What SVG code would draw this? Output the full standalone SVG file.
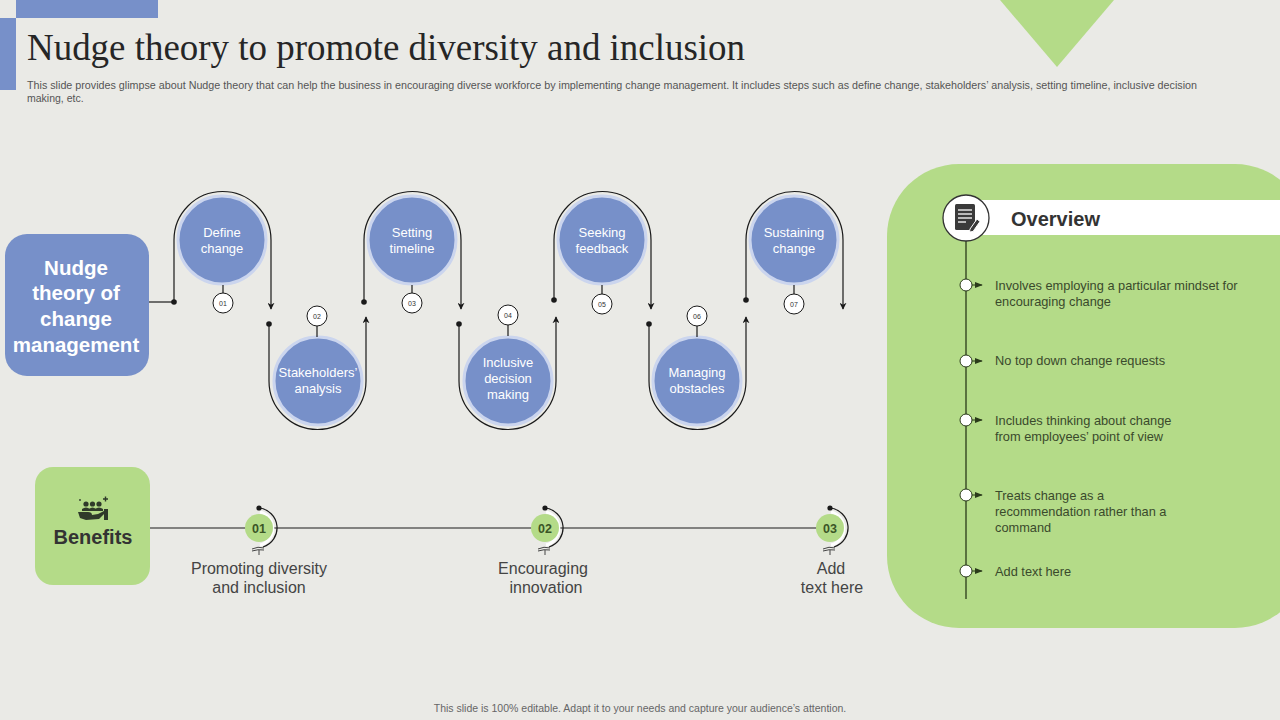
<svg xmlns="http://www.w3.org/2000/svg" width="1280" height="720" viewBox="0 0 1280 720">
<defs>
<marker id="arr" viewBox="0 0 10 10" refX="9" refY="5" markerWidth="7" markerHeight="7" orient="auto-start-reverse" markerUnits="userSpaceOnUse">
<path d="M0,0 L10,5 L0,10 L3,5 Z" fill="#1a1a1a"/>
</marker>
<marker id="arr2" viewBox="0 0 10 10" refX="9" refY="5" markerWidth="8" markerHeight="8" orient="auto" markerUnits="userSpaceOnUse">
<path d="M0,1 L10,5 L0,9 Z" fill="#2a3a1a"/>
</marker>
<style>
.sans{font-family:"Liberation Sans",Arial,sans-serif}
.step{fill:#7790C9;stroke:#CBD5EE;stroke-width:3}
.stxt{font-family:"Liberation Sans",Arial,sans-serif;font-size:13px;fill:#ffffff;text-anchor:middle}
.badge{fill:#ffffff;stroke:#1a1a1a;stroke-width:1}
.btxt{font-family:"Liberation Sans",Arial,sans-serif;font-size:7px;fill:#333;text-anchor:middle}
.wire{fill:none;stroke:#1a1a1a;stroke-width:1.2}
.tick{stroke:#1a1a1a;stroke-width:1.2}
.dot{fill:#1a1a1a}
.gc{fill:#B4DB88}
.gnum{font-family:"Liberation Sans",Arial,sans-serif;font-size:12.5px;font-weight:bold;fill:#3B5526;text-anchor:middle}
.blab{font-family:"Liberation Sans",Arial,sans-serif;font-size:16px;fill:#444;text-anchor:middle}
.otxt{font-family:"Liberation Sans",Arial,sans-serif;font-size:12.8px;fill:#3A4A2C}
.bul{fill:#ffffff;stroke:#2a3a1a;stroke-width:1}
</style>
</defs>
<rect width="1280" height="720" fill="#EAEAE6"/>
<!-- header decoration -->
<rect x="16" y="0" width="142" height="18" fill="#7790C9"/>
<rect x="0" y="18" width="16" height="72" fill="#7790C9"/>
<polygon points="1000,0 1114,0 1057,67" fill="#B4DB88"/>
<text x="27" y="60" font-family="'Liberation Serif','Times New Roman',serif" font-size="37" fill="#262626" textLength="718" lengthAdjust="spacingAndGlyphs">Nudge theory to promote diversity and inclusion</text>
<text class="sans" x="27" y="89" font-size="10.5" fill="#555" textLength="1170" lengthAdjust="spacingAndGlyphs">This slide provides glimpse about Nudge theory that can help the business in encouraging diverse workforce by implementing change management. It includes steps such as define change, stakeholders’ analysis, setting timeline, inclusive decision</text>
<text class="sans" x="27" y="102" font-size="10.5" fill="#555">making, etc.</text>

<!-- connectors -->
<g id="connectors">
<path class="wire" d="M149,302 H174"/>
<path class="wire" d="M174,302 V240 A48.5,48.5 0 0 1 271,240 V309" marker-end="url(#arr)"/>
<path class="wire" d="M269,324 V381 A48.5,48.5 0 0 0 366,381 V317" marker-end="url(#arr)"/>
<path class="wire" d="M364,302 V240 A48.5,48.5 0 0 1 461,240 V309" marker-end="url(#arr)"/>
<path class="wire" d="M459,324 V381 A48.5,48.5 0 0 0 556,381 V317" marker-end="url(#arr)"/>
<path class="wire" d="M554,300 V240 A48.5,48.5 0 0 1 651,240 V309" marker-end="url(#arr)"/>
<path class="wire" d="M649,324 V381 A48.5,48.5 0 0 0 746,381 V317" marker-end="url(#arr)"/>
<path class="wire" d="M746,300 V240 A48.5,48.5 0 0 1 843,240 V309" marker-end="url(#arr)"/>
<circle class="dot" cx="174" cy="302" r="2.8"/>
<circle class="dot" cx="269" cy="324" r="2.8"/>
<circle class="dot" cx="364" cy="302" r="2.8"/>
<circle class="dot" cx="459" cy="324" r="2.8"/>
<circle class="dot" cx="554" cy="300" r="2.8"/>
<circle class="dot" cx="649" cy="324" r="2.8"/>
<circle class="dot" cx="746" cy="300" r="2.8"/>
<path class="wire" d="M150,528 H830"/>
</g>

<g id="nudge-box">
<rect x="5" y="234" width="144" height="142" rx="22" fill="#7790C9"/>
<g class="sans" font-size="20.5" font-weight="bold" fill="#ffffff" text-anchor="middle">
<text x="76" y="275">Nudge</text>
<text x="76" y="300">theory of</text>
<text x="76" y="326">change</text>
<text x="76" y="352">management</text>
</g>
</g>

<g id="step1">
<circle class="step" cx="222" cy="240" r="44"/>
<text class="stxt" x="222" y="237">Define</text>
<text class="stxt" x="222" y="253">change</text>
<line class="tick" x1="223" y1="285" x2="223" y2="293"/>
<circle class="badge" cx="223" cy="303" r="10"/>
<text class="btxt" x="223" y="305.5">01</text>
</g>
<g id="step2">
<circle class="step" cx="318" cy="381" r="44"/>
<text class="stxt" x="318" y="377">Stakeholders’</text>
<text class="stxt" x="318" y="393">analysis</text>
<line class="tick" x1="317" y1="326" x2="317" y2="337"/>
<circle class="badge" cx="317" cy="316" r="10"/>
<text class="btxt" x="317" y="318.5">02</text>
</g>
<g id="step3">
<circle class="step" cx="412" cy="240" r="44"/>
<text class="stxt" x="412" y="237">Setting</text>
<text class="stxt" x="412" y="253">timeline</text>
<line class="tick" x1="412" y1="285" x2="412" y2="293"/>
<circle class="badge" cx="412" cy="303" r="10"/>
<text class="btxt" x="412" y="305.5">03</text>
</g>
<g id="step4">
<circle class="step" cx="508" cy="381" r="44"/>
<text class="stxt" x="508" y="367">Inclusive</text>
<text class="stxt" x="508" y="383">decision</text>
<text class="stxt" x="508" y="399">making</text>
<line class="tick" x1="508" y1="325" x2="508" y2="336"/>
<circle class="badge" cx="508" cy="315" r="10"/>
<text class="btxt" x="508" y="317.5">04</text>
</g>
<g id="step5">
<circle class="step" cx="602" cy="240" r="44"/>
<text class="stxt" x="602" y="237">Seeking</text>
<text class="stxt" x="602" y="253">feedback</text>
<line class="tick" x1="602" y1="285" x2="602" y2="294"/>
<circle class="badge" cx="602" cy="304" r="10"/>
<text class="btxt" x="602" y="306.5">05</text>
</g>
<g id="step6">
<circle class="step" cx="697" cy="381" r="44"/>
<text class="stxt" x="697" y="377">Managing</text>
<text class="stxt" x="697" y="393">obstacles</text>
<line class="tick" x1="697" y1="326" x2="697" y2="337"/>
<circle class="badge" cx="697" cy="316" r="10"/>
<text class="btxt" x="697" y="318.5">06</text>
</g>
<g id="step7">
<circle class="step" cx="794" cy="240" r="44"/>
<text class="stxt" x="794" y="237">Sustaining</text>
<text class="stxt" x="794" y="253">change</text>
<line class="tick" x1="794" y1="285" x2="794" y2="294"/>
<circle class="badge" cx="794" cy="304" r="10"/>
<text class="btxt" x="794" y="306.5">07</text>
</g>

<g id="benefits-box">
<rect x="35" y="467" width="115" height="118" rx="18" fill="#B4DB88"/>
<g fill="#2f3a2a">
<circle cx="86" cy="504" r="2.6"/><circle cx="92.5" cy="504" r="2.6"/><circle cx="99" cy="504" r="2.6"/>
<path d="M82,509 Q86,506 90,509 L90,511 L82,511 Z"/>
<path d="M89,509 Q92.5,506 96,509 L96,511 L89,511 Z"/>
<path d="M95,509 Q99,506 103,509 L103,511 L95,511 Z"/>
<path d="M78,512 L88,512 Q92,512 92,515 L98,514 L104,511 L105,513 L99,519 L86,520 L80,518 Z"/>
<rect x="104" y="509" width="4" height="11"/>
<path d="M103,499 h5 M105.5,496.5 v5" stroke="#2f3a2a" stroke-width="1.4"/>
<circle cx="80" cy="500" r="0.9"/>
</g>
<text class="sans" x="93" y="544" font-size="20" font-weight="bold" fill="#333" text-anchor="middle">Benefits</text>
</g>

<g id="benefit1">
<path d="M260,512 A17,17 0 0 1 260,545" fill="none" stroke="#ffffff" stroke-width="3"/>
<path class="wire" d="M259,508 A20,20 0 0 1 263,547"/>
<circle class="dot" cx="259" cy="508" r="2.6"/>
<circle class="gc" cx="259" cy="528" r="14"/>
<path d="M252,549 Q258,546 264,548 M252,551 Q258,549 264,550" fill="none" stroke="#444" stroke-width="1"/>
<line x1="259" y1="550" x2="259" y2="555" stroke="#444" stroke-width="1"/>
<text class="gnum" x="259" y="532.5">01</text>
<text class="blab" x="259" y="574">Promoting diversity</text>
<text class="blab" x="259" y="593">and inclusion</text>
</g>
<g id="benefit2">
<path d="M546,512 A17,17 0 0 1 546,545" fill="none" stroke="#ffffff" stroke-width="3"/>
<path class="wire" d="M545,508 A20,20 0 0 1 549,547"/>
<circle class="dot" cx="545" cy="508" r="2.6"/>
<circle class="gc" cx="545" cy="528" r="14"/>
<path d="M538,549 Q544,546 550,548 M538,551 Q544,549 550,550" fill="none" stroke="#444" stroke-width="1"/>
<line x1="545" y1="550" x2="545" y2="555" stroke="#444" stroke-width="1"/>
<text class="gnum" x="545" y="532.5">02</text>
<text class="blab" x="543" y="574">Encouraging</text>
<text class="blab" x="546" y="593">innovation</text>
</g>
<g id="benefit3">
<path d="M831,512 A17,17 0 0 1 831,545" fill="none" stroke="#ffffff" stroke-width="3"/>
<path class="wire" d="M830,508 A20,20 0 0 1 834,547"/>
<circle class="dot" cx="830" cy="508" r="2.6"/>
<circle class="gc" cx="830" cy="528" r="14"/>
<path d="M823,549 Q829,546 835,548 M823,551 Q829,549 835,550" fill="none" stroke="#444" stroke-width="1"/>
<line x1="830" y1="550" x2="830" y2="555" stroke="#444" stroke-width="1"/>
<text class="gnum" x="830" y="532.5">03</text>
<text class="blab" x="831" y="574">Add</text>
<text class="blab" x="832" y="593">text here</text>
</g>

<g id="overview">
<rect x="887" y="164" width="420" height="464" rx="72" fill="#B4DB88"/>
<rect x="966" y="200" width="314" height="35" fill="#ffffff"/>
<line x1="966" y1="240" x2="966" y2="599" stroke="#2a3a1a" stroke-width="1.3"/>
<circle cx="966" cy="218" r="23" fill="#ffffff" stroke="#333" stroke-width="1.3"/>
<rect x="955" y="204" width="20" height="26" rx="1.5" fill="#3a3a3a"/>
<g stroke="#ffffff" stroke-width="1.3">
<line x1="958" y1="210" x2="972" y2="210"/>
<line x1="958" y1="214" x2="972" y2="214"/>
<line x1="958" y1="218" x2="972" y2="218"/>
<line x1="958" y1="222" x2="966" y2="222"/>
</g>
<path d="M970,229 L977,219 L980,221.5 L973,231.5 L969.5,232 Z" fill="#3a3a3a" stroke="#ffffff" stroke-width="1"/>
<text class="sans" x="1011" y="226" font-size="20" font-weight="bold" fill="#333">Overview</text>
<g>
<circle class="bul" cx="966" cy="285" r="6"/><path d="M972,285 H982" stroke="#2a3a1a" stroke-width="1" marker-end="url(#arr2)"/>
<circle class="bul" cx="966" cy="361" r="6"/><path d="M972,361 H982" stroke="#2a3a1a" stroke-width="1" marker-end="url(#arr2)"/>
<circle class="bul" cx="966" cy="420" r="6"/><path d="M972,420 H982" stroke="#2a3a1a" stroke-width="1" marker-end="url(#arr2)"/>
<circle class="bul" cx="966" cy="495" r="6"/><path d="M972,495 H982" stroke="#2a3a1a" stroke-width="1" marker-end="url(#arr2)"/>
<circle class="bul" cx="966" cy="571" r="6"/><path d="M972,571 H982" stroke="#2a3a1a" stroke-width="1" marker-end="url(#arr2)"/>
</g>
<text class="otxt" x="995" y="290">Involves  employing a particular mindset for</text>
<text class="otxt" x="995" y="306">encouraging change</text>
<text class="otxt" x="995" y="365">No top down change requests</text>
<text class="otxt" x="995" y="425">Includes thinking about change</text>
<text class="otxt" x="995" y="441">from employees’ point of view</text>
<text class="otxt" x="995" y="500">Treats change as a</text>
<text class="otxt" x="995" y="516">recommendation rather than a</text>
<text class="otxt" x="995" y="532">command</text>
<text class="otxt" x="995" y="576">Add text here</text>
</g>

<text class="sans" x="640" y="712" font-size="10.5" fill="#666" text-anchor="middle">This slide is 100% editable. Adapt it to your needs and capture your audience’s attention.</text>
</svg>
